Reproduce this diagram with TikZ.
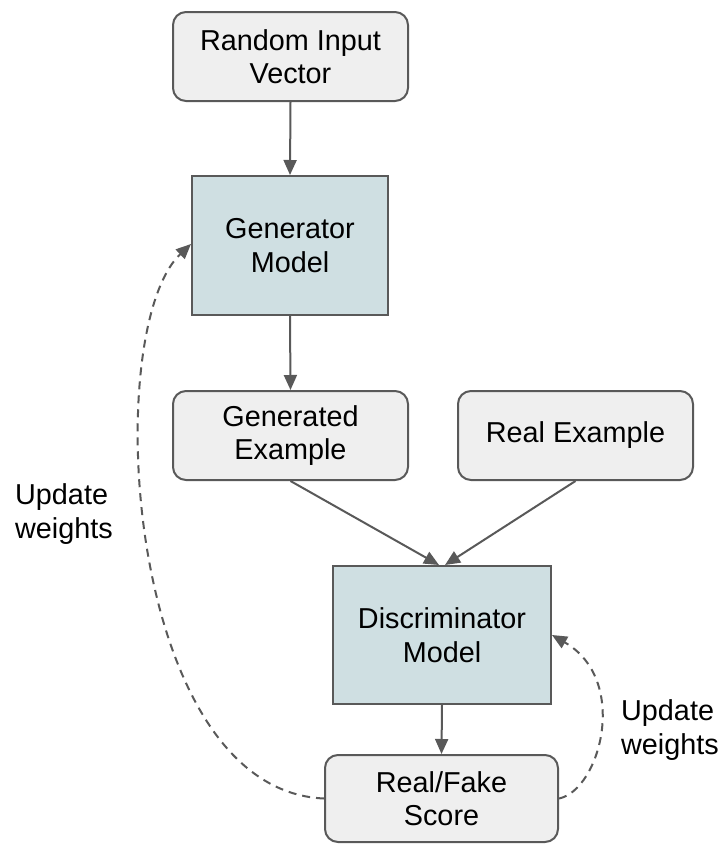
\documentclass[tikz,border=0pt]{standalone}
\usepackage{fontspec}
\setmainfont{Liberation Sans}
\usetikzlibrary{arrows.meta}
\definecolor{boxgray}{HTML}{EFEFEF}
\definecolor{boxblue}{HTML}{CFDFE2}
\definecolor{edge}{HTML}{595959}
\begin{document}
\begin{tikzpicture}[x=1pt,y=-1pt,
  every node/.style={font=\fontsize{28.8}{33.5}\selectfont, align=center, inner sep=0pt},
  graybox/.style={draw=edge, line width=2pt, fill=boxgray, rounded corners=13pt},
  bluebox/.style={draw=edge, line width=2pt, fill=boxblue},
  conn/.style={draw=edge, line width=2pt, -{Triangle[length=15pt,width=13pt]}},
  dconn/.style={conn, dash pattern=on 8pt off 6pt},
  lbl/.style={align=left}]
\useasboundingbox (0,0) rectangle (725,844);
\node[graybox, minimum width=235pt, minimum height=89pt] (rin) at (290.5,56.5) {Random Input\\Vector};
\node[bluebox, minimum width=196pt, minimum height=139pt] (gen) at (290,245.5) {Generator\\Model};
\node[graybox, minimum width=235pt, minimum height=89pt] (gex) at (290.5,435.5) {Generated\\Example};
\node[graybox, minimum width=235pt, minimum height=89pt] (rex) at (575.5,435.5) {Real Example};
\node[bluebox, minimum width=218pt, minimum height=138pt] (dis) at (442,635) {Discriminator\\Model};
\node[graybox, minimum width=233pt, minimum height=87pt] (sc) at (441.5,798.5) {Real/Fake\\Score};
\node[lbl] (l1) at (64,514) {Update\\weights};
\node[lbl] (l2) at (670,730) {Update\\weights};
\draw[conn] (rin.south) -- (gen.north);
\draw[conn] (gen.south) -- (gex.north);
\draw[conn] (gex.south) -- ([xshift=-3pt]dis.north);
\draw[conn] (rex.south) -- ([xshift=3pt]dis.north);
\draw[conn] (dis.south) -- (sc.north);
\draw[dconn] (sc.west) .. controls (125,790) and (100,330) .. ([yshift=1.5pt]gen.west);
\draw[dconn] (sc.east) .. controls (600,790) and (630,680) .. (dis.east);
\end{tikzpicture}
\end{document}
